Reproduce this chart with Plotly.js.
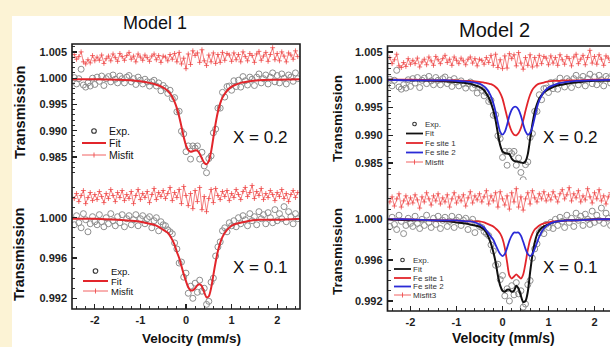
<!DOCTYPE html>
<html><head><meta charset="utf-8">
<script src="https://cdn.plot.ly/plotly-3.0.1.min.js"></script>
<style>html,body{margin:0;padding:0;overflow:hidden;background:#fcf3d5;}#chart{width:625px;height:347px;}</style>
</head><body><div id="chart"></div>
<script>
// ---------------- DATA ----------------
const velocity = [
-2.45,-2.4,-2.35,-2.3,-2.25,-2.2,-2.15,-2.1,-2.05,-2,
-1.95,-1.9,-1.85,-1.8,-1.75,-1.7,-1.65,-1.6,-1.55,-1.5,
-1.45,-1.4,-1.35,-1.3,-1.25,-1.2,-1.15,-1.1,-1.05,-1,
-0.95,-0.9,-0.85,-0.8,-0.75,-0.7,-0.65,-0.6,-0.55,-0.5,
-0.45,-0.4,-0.35,-0.3,-0.25,-0.2,-0.15,-0.1,-0.05,0,
0.05,0.1,0.15,0.2,0.25,0.3,0.35,0.4,0.45,0.5,
0.55,0.6,0.65,0.7,0.75,0.8,0.85,0.9,0.95,1,
1.05,1.1,1.15,1.2,1.25,1.3,1.35,1.4,1.45,1.5,
1.55,1.6,1.65,1.7,1.75,1.8,1.85,1.9,1.95,2,
2.05,2.1,2.15,2.2,2.25,2.3,2.35,2.4,2.45];

const expX02 = [
1.0001,0.9989,0.9999,1.0017,0.9987,0.9983,0.9991,0.9985,1.0000,0.9988,
1.0002,0.9994,1.0004,0.9986,0.9999,1.0003,0.9993,1.0006,0.9998,0.9991,
1.0004,0.9999,0.9991,1.0002,1.0005,0.9993,0.9999,0.9988,1.0002,0.9996,
0.9989,0.9998,0.9993,0.9985,0.9993,0.9996,0.9985,0.9991,0.9976,0.9986,
0.9981,0.9971,0.9977,0.9961,0.9963,0.9936,0.9937,0.9899,0.9894,0.9860,
0.9871,0.9846,0.9871,0.9867,0.9871,0.9846,0.9859,0.9833,0.9820,0.9847,
0.9852,0.9896,0.9903,0.9943,0.9943,0.9973,0.9964,0.9984,0.9985,0.9977,
0.9995,0.9984,0.9996,0.9983,1.0003,0.9995,0.9987,1.0002,0.9998,0.9986,
1.0002,1.0008,0.9991,0.9999,1.0006,0.9989,1.0002,1.0010,0.9993,1.0005,
0.9991,1.0008,1.0000,0.9989,1.0006,1.0002,0.9994,1.0010,0.9999];

const expX01 = [
0.9993,1.0002,0.9995,0.9990,1.0004,0.9998,0.9986,0.9994,1.0001,0.9996,
0.9993,1.0003,0.9996,0.9991,1.0000,0.9994,1.0004,0.9997,0.9992,1.0001,
0.9995,1.0003,0.9991,0.9999,1.0002,0.9993,0.9998,1.0003,0.9992,0.9999,
1.0002,0.9994,0.9999,1.0001,0.9990,0.9997,1.0000,0.9987,0.9996,0.9993,
0.9992,0.9988,0.9986,0.9984,0.9975,0.9969,0.9955,0.9956,0.9941,0.9945,
0.9925,0.9932,0.9920,0.9935,0.9926,0.9938,0.9927,0.9930,0.9914,0.9917,
0.9936,0.9940,0.9962,0.9971,0.9976,0.9987,0.9990,0.9986,0.9995,0.9992,
0.9997,0.9991,1.0000,0.9994,1.0002,0.9998,0.9992,1.0004,0.9997,1.0001,
0.9993,1.0006,0.9999,1.0003,0.9994,1.0005,1.0000,0.9995,1.0008,0.9997,
1.0004,0.9999,1.0011,0.9996,1.0006,1.0001,0.9994,1.0004,0.9999];

const misfitM1X02 = [
1.0045,1.0036,1.0041,1.0050,1.0031,1.0027,1.0035,1.0029,1.0043,1.0033,
1.0040,1.0034,1.0044,1.0028,1.0037,1.0042,1.0033,1.0046,1.0039,1.0032,
1.0047,1.0041,1.0034,1.0043,1.0049,1.0036,1.0042,1.0031,1.0046,1.0040,
1.0034,1.0044,1.0039,1.0032,1.0042,1.0046,1.0035,1.0043,1.0030,1.0042,
1.0040,1.0033,1.0045,1.0036,1.0047,1.0031,1.0049,1.0027,1.0038,1.0018,
1.0046,1.0026,1.0052,1.0043,1.0048,1.0030,1.0054,1.0033,1.0024,1.0044,
1.0031,1.0048,1.0028,1.0045,1.0030,1.0049,1.0034,1.0047,1.0044,1.0032,
1.0048,1.0035,1.0045,1.0031,1.0050,1.0041,1.0033,1.0047,1.0043,1.0030,
1.0046,1.0051,1.0034,1.0042,1.0049,1.0032,1.0045,1.0058,1.0035,1.0047,
1.0033,1.0050,1.0042,1.0031,1.0048,1.0044,1.0036,1.0052,1.0041];

const misfitM1X01 = [
1.0019,1.0024,1.0016,1.0022,1.0027,1.0014,1.0020,1.0025,1.0017,1.0023,
1.0018,1.0026,1.0021,1.0015,1.0024,1.0019,1.0028,1.0022,1.0016,1.0025,
1.0020,1.0027,1.0017,1.0023,1.0019,1.0026,1.0014,1.0022,1.0028,1.0018,
1.0024,1.0020,1.0026,1.0015,1.0023,1.0029,1.0018,1.0025,1.0021,1.0027,
1.0019,1.0024,1.0030,1.0017,1.0025,1.0020,1.0028,1.0014,1.0031,1.0022,
1.0012,1.0024,1.0009,1.0027,1.0016,1.0030,1.0008,1.0021,1.0006,1.0019,
1.0028,1.0015,1.0029,1.0022,1.0018,1.0026,1.0021,1.0027,1.0017,1.0024,
1.0020,1.0028,1.0023,1.0018,1.0026,1.0030,1.0021,1.0025,1.0032,1.0019,
1.0026,1.0022,1.0029,1.0018,1.0024,1.0020,1.0027,1.0023,1.0017,1.0025,
1.0021,1.0028,1.0019,1.0024,1.0016,1.0023,1.0027,1.0020,1.0025];

const misfitM2X02 = [
1.0040,1.0029,1.0036,1.0046,1.0025,1.0022,1.0031,1.0024,1.0038,1.0028,
1.0035,1.0029,1.0039,1.0023,1.0032,1.0037,1.0027,1.0041,1.0034,1.0026,
1.0042,1.0036,1.0029,1.0038,1.0044,1.0031,1.0037,1.0026,1.0041,1.0035,
1.0029,1.0039,1.0034,1.0027,1.0037,1.0041,1.0030,1.0038,1.0025,1.0037,
1.0035,1.0028,1.0040,1.0031,1.0044,1.0026,1.0046,1.0022,1.0036,1.0020,
1.0043,1.0021,1.0047,1.0038,1.0045,1.0025,1.0049,1.0030,1.0019,1.0040,
1.0026,1.0045,1.0023,1.0040,1.0025,1.0044,1.0029,1.0042,1.0039,1.0027,
1.0043,1.0030,1.0040,1.0026,1.0045,1.0036,1.0028,1.0042,1.0038,1.0025,
1.0041,1.0046,1.0029,1.0037,1.0044,1.0027,1.0040,1.0053,1.0030,1.0042,
1.0028,1.0045,1.0037,1.0026,1.0043,1.0039,1.0031,1.0047,1.0036];

const misfitM2X01 = [
1.0017,1.0022,1.0013,1.0020,1.0025,1.0012,1.0018,1.0023,1.0015,1.0021,
1.0016,1.0024,1.0019,1.0011,1.0022,1.0017,1.0026,1.0020,1.0014,1.0023,
1.0018,1.0025,1.0015,1.0021,1.0017,1.0024,1.0012,1.0020,1.0026,1.0016,
1.0022,1.0018,1.0024,1.0013,1.0021,1.0027,1.0016,1.0023,1.0019,1.0025,
1.0017,1.0022,1.0028,1.0015,1.0023,1.0018,1.0026,1.0012,1.0027,1.0020,
1.0014,1.0023,1.0010,1.0026,1.0017,1.0030,1.0012,1.0022,1.0009,1.0020,
1.0026,1.0015,1.0028,1.0021,1.0017,1.0025,1.0020,1.0027,1.0018,1.0024,
1.0019,1.0027,1.0022,1.0017,1.0025,1.0029,1.0020,1.0024,1.0031,1.0018,
1.0025,1.0021,1.0028,1.0017,1.0023,1.0019,1.0030,1.0022,1.0016,1.0026,
1.0020,1.0029,1.0018,1.0023,1.0015,1.0022,1.0026,1.0019,1.0024];

const fitVelocity = [-2.5,-2,-1.5,-1.2,-1,-0.8,-0.7,-0.6,-0.5,-0.4,
-0.35,-0.3,-0.25,-0.2,-0.15,-0.1,-0.05,0,0.05,0.1,
0.15,0.2,0.25,0.3,0.35,0.4,0.45,0.5,0.55,0.6,
0.65,0.7,0.75,0.8,0.9,1,1.1,1.2,1.4,1.6,2,2.5];

const fitM1X02 = [0.9998,0.9998,0.9997,0.9996,0.9994,0.9991,0.9989,0.9986,0.9982,0.9976,
0.9971,0.9964,0.9955,0.9943,0.9927,0.9908,0.9888,0.9872,0.9863,0.9860,
0.9861,0.9863,0.9862,0.9856,0.9847,0.9839,0.9836,0.9842,0.9860,0.9887,
0.9914,0.9936,0.9952,0.9963,0.9976,0.9984,0.9988,0.9991,0.9994,0.9996,0.9997,0.9998];

const fitM1X01 = [0.9999,0.9999,0.9998,0.9997,0.9996,0.9994,0.9993,0.9991,0.9988,0.9985,
0.9982,0.9978,0.9973,0.9966,0.9960,0.9952,0.9944,0.9937,0.9931,0.9928,
0.9928,0.9930,0.9933,0.9934,0.9932,0.9926,0.9921,0.9922,0.9930,0.9943,
0.9956,0.9967,0.9975,0.9981,0.9988,0.9992,0.9994,0.9995,0.9997,0.9998,0.9998,0.9999];

const fitM2X02 = [1.0000,0.9999,0.9998,0.9997,0.9996,0.9994,0.9993,0.9990,0.9987,0.9981,
0.9975,0.9968,0.9958,0.9945,0.9927,0.9903,0.9882,0.9871,0.9868,0.9867,
0.9866,0.9858,0.9854,0.9853,0.9852,0.9851,0.9850,0.9853,0.9866,0.9893,
0.9920,0.9942,0.9956,0.9966,0.9977,0.9983,0.9987,0.9990,0.9993,0.9995,0.9998,0.9999];

const site1M2X02 = [1.0000,1.0000,0.9999,0.9999,0.9999,0.9998,0.9998,0.9997,0.9996,0.9995,
0.9994,0.9993,0.9992,0.9990,0.9987,0.9983,0.9976,0.9966,0.9950,0.9933,
0.9918,0.9907,0.9901,0.9900,0.9904,0.9913,0.9927,0.9944,0.9960,0.9973,
0.9982,0.9987,0.9991,0.9993,0.9995,0.9997,0.9998,0.9998,0.9999,0.9999,1.0000,1.0000];

const site2M2X02 = [1.0000,0.9999,0.9999,0.9999,0.9998,0.9997,0.9996,0.9995,0.9993,0.9988,
0.9984,0.9978,0.9970,0.9958,0.9942,0.9922,0.9906,0.9901,0.9906,0.9919,
0.9935,0.9946,0.9951,0.9951,0.9946,0.9935,0.9920,0.9907,0.9901,0.9904,
0.9915,0.9932,0.9950,0.9963,0.9978,0.9986,0.9990,0.9993,0.9996,0.9998,0.9999,1.0000];

const fitM2X01 = [1.0000,0.9999,0.9999,0.9998,0.9997,0.9996,0.9995,0.9994,0.9993,0.9990,
0.9987,0.9982,0.9976,0.9968,0.9958,0.9945,0.9935,0.9930,0.9929,0.9931,
0.9931,0.9929,0.9930,0.9935,0.9932,0.9925,0.9919,0.9920,0.9929,0.9948,
0.9965,0.9977,0.9985,0.9989,0.9993,0.9995,0.9997,0.9998,0.9999,0.9999,1.0000,1.0000];

const site1M2X01 = [1.0000,1.0000,0.9999,0.9999,0.9999,0.9998,0.9998,0.9998,0.9998,0.9997,
0.9996,0.9995,0.9994,0.9993,0.9991,0.9989,0.9986,0.9981,0.9972,0.9958,
0.9945,0.9942,0.9944,0.9946,0.9944,0.9942,0.9946,0.9957,0.9970,0.9980,
0.9986,0.9990,0.9992,0.9994,0.9996,0.9997,0.9998,0.9998,0.9999,0.9999,1.0000,1.0000];

const site2M2X01 = [1.0000,1.0000,0.9999,0.9999,0.9999,0.9998,0.9998,0.9997,0.9995,0.9992,
0.9989,0.9986,0.9983,0.9980,0.9975,0.9970,0.9966,0.9964,0.9966,0.9972,
0.9979,0.9984,0.9987,0.9987,0.9987,0.9984,0.9978,0.9971,0.9966,0.9964,
0.9966,0.9971,0.9977,0.9983,0.9991,0.9995,0.9997,0.9998,0.9999,0.9999,1.0000,1.0000];

const xTickVals = [-2,-1,0,1,2];
const xTickText = ['-2','-1','0','1','2'];
const yTickValsX02 = [1.005,1.000,0.995,0.990,0.985];
const yTickTextX02 = ['1.005','1.000','0.995','0.990','0.985'];
const yTickValsX01 = [1.000,0.996,0.992];
const yTickTextX01 = ['1.000','0.996','0.992'];
const panelTitles = ['Model 1','Model 2'];
const compositionLabels = ['X = 0.2','X = 0.1'];
const axisTitleY = 'Transmission';
const axisTitleX = 'Velocity (mm/s)';

// ---------------- STYLE / LAYOUT ----------------
const W = 625, H = 347;
const px = v => v / W;
const py = v => 1 - v / H;
const FONT = 'Liberation Sans, Arial, Helvetica, sans-serif';
const MISFIT = 'rgba(238,70,70,0.85)';

function expTrace(y, xa, ya) {
  return {type:'scatter', mode:'markers', x: velocity, y: y, xaxis: xa, yaxis: ya, name:'Exp.',
    marker:{symbol:'circle-open', size:6, color:'#8e8e8e', line:{width:1}}, showlegend:false};
}
function misfitTrace(y, xa, ya, name) {
  return {type:'scatter', mode:'lines+markers', x: velocity, y: y, xaxis: xa, yaxis: ya, name: name,
    line:{color:MISFIT, width:0.8},
    marker:{symbol:'cross-thin-open', size:3.5, color:MISFIT, line:{width:0.9, color:MISFIT}},
    showlegend:false};
}
function lineTrace(y, xa, ya, name, color, width) {
  return {type:'scatter', mode:'lines', x: fitVelocity, y: y, xaxis: xa, yaxis: ya, name: name,
    line:{color: color, width: width, shape:'spline', smoothing:0.7}, showlegend:false};
}

const RED = '#e2252b', BLUE = '#2a2ad6', BLACK = '#111111';

const tl = [expTrace(expX02,'x','y'), lineTrace(fitM1X02,'x','y','Fit',RED,2), misfitTrace(misfitM1X02,'x','y','Misfit')];
const bl = [expTrace(expX01,'x','y2'), lineTrace(fitM1X01,'x','y2','Fit',RED,2), misfitTrace(misfitM1X01,'x','y2','Misfit')];
const tr = [expTrace(expX02,'x2','y3'), lineTrace(fitM2X02,'x2','y3','Fit',BLACK,2),
            lineTrace(site1M2X02,'x2','y3','Fe site 1',RED,1.8), lineTrace(site2M2X02,'x2','y3','Fe site 2',BLUE,1.8),
            misfitTrace(misfitM2X02,'x2','y3','Misfit')];
const br = [expTrace(expX01,'x2','y4'), lineTrace(fitM2X01,'x2','y4','Fit',BLACK,2),
            lineTrace(site1M2X01,'x2','y4','Fe site 1',RED,1.8), lineTrace(site2M2X01,'x2','y4','Fe site 2',BLUE,1.8),
            misfitTrace(misfitM2X01,'x2','y4','Misfit3')];
const data = [...tl, ...bl, ...tr, ...br];

const tickFont = {family: FONT, size: 11, color:'#1e1e1e', weight:'bold'};
function xAxis(domain, anchor) {
  return {domain: domain, anchor: anchor, range:[-2.5,2.5], tickmode:'array', tickvals:xTickVals, ticktext:xTickText,
    ticks:'inside', ticklen:5, tickwidth:1.3, tickcolor:'#222', showline:false, showgrid:false, zeroline:false,
    tickfont: tickFont, ticklabelstandoff: 3,
    minor:{tickmode:'linear', tick0:0, dtick:0.2, ticks:'inside', ticklen:3, tickwidth:1, tickcolor:'#333', showgrid:false}};
}
function yAxis(domain, range, vals, text, minorD, anchor) {
  return {domain: domain, anchor: anchor, range: range, tickmode:'array', tickvals: vals, ticktext: text,
    ticks:'inside', ticklen:5, tickwidth:1.3, tickcolor:'#222', showline:false, showgrid:false, zeroline:false,
    tickfont: tickFont, ticklabelstandoff: 4,
    minor:{tickmode:'linear', tick0:1, dtick:minorD, ticks:'inside', ticklen:3, tickwidth:1, tickcolor:'#333', showgrid:false}};
}

const layout = {
  width: W, height: H, margin:{l:0,r:0,t:0,b:0}, showlegend:false,
  paper_bgcolor:'#fcf3d5', plot_bgcolor:'rgba(0,0,0,0)',
  font:{family: FONT, color:'#111'},
  xaxis: xAxis([72/W, 300/W], 'y2'),
  xaxis2: xAxis([387.5/W, 617.5/W], 'y4'),
  yaxis: yAxis([py(178), py(44)], [0.981, 1.0065], yTickValsX02, yTickTextX02, 0.001, 'x'),
  yaxis2: yAxis([py(309), py(178)], [0.99094, 1.00394], yTickValsX01, yTickTextX01, 0.001, 'x'),
  yaxis3: yAxis([py(180), py(46)], [0.98194, 1.00608], yTickValsX02, yTickTextX02, 0.001, 'x2'),
  yaxis4: yAxis([py(311), py(180)], [0.99102, 1.00385], yTickValsX01, yTickTextX01, 0.001, 'x2'),
  shapes: [], annotations: []
};

// white card behind the figure
layout.shapes.push({type:'rect', xref:'paper', yref:'paper', x0:px(12), x1:1, y0:0, y1:py(16),
  fillcolor:'#ffffff', line:{width:0}, layer:'below'});
// panel frames
layout.shapes.push({type:'rect', xref:'paper', yref:'paper', x0:px(72), x1:px(300), y0:py(309), y1:py(44),
  line:{color:'#1a1a1a', width:1.6}, fillcolor:'rgba(0,0,0,0)', layer:'above'});
layout.shapes.push({type:'rect', xref:'paper', yref:'paper', x0:px(387.5), x1:px(617.5), y0:py(311), y1:py(46),
  line:{color:'#1a1a1a', width:1.7}, fillcolor:'rgba(0,0,0,0)', layer:'above'});

function ann(text, x, y, size, opts) {
  layout.annotations.push(Object.assign({xref:'paper', yref:'paper', x:px(x), y:py(y), text:text, showarrow:false,
    xanchor:'center', yanchor:'middle', font:{family:FONT, size:size, color:'#111'}}, opts || {}));
}
// titles
ann(panelTitles[0], 155, 23, 18);
ann(panelTitles[1], 494, 30, 20);
// axis titles
const tf = (s) => ({family:FONT, size:s, color:'#111', weight:'bold'});
ann(axisTitleY, 20, 113, 14.5, {textangle:-90, font: tf(14.5)});
ann(axisTitleY, 19, 255, 14.5, {textangle:-90, font: tf(14.5)});
ann(axisTitleY, 337, 119, 13.5, {textangle:-90, font: tf(13.5)});
ann(axisTitleY, 337, 252, 13.5, {textangle:-90, font: tf(13.5)});
ann(axisTitleX, 191, 347, 13.5, {font: tf(13.5), yanchor:'bottom', borderpad:0});
ann(axisTitleX, 503, 347, 14, {font: tf(14), yanchor:'bottom', borderpad:0});
// composition labels
ann(compositionLabels[0], 260, 137, 17);
ann(compositionLabels[1], 260, 267, 17);
ann(compositionLabels[0], 570, 137, 17);
ann(compositionLabels[1], 570, 267, 17);

// manual compact legends built from the traces
function legend(traces, spec) {
  traces.forEach((t, k) => {
    const y = spec.rows[k];
    const cx = (spec.x0 + spec.x1) / 2;
    if (t.mode === 'markers') {
      const r = spec.r;
      layout.shapes.push({type:'circle', xref:'paper', yref:'paper', x0:px(cx-r), x1:px(cx+r), y0:py(y+r), y1:py(y-r),
        line:{color:'#333', width:1.1}, fillcolor:'rgba(0,0,0,0)'});
    } else {
      layout.shapes.push({type:'line', xref:'paper', yref:'paper', x0:px(spec.x0), x1:px(spec.x1), y0:py(y), y1:py(y),
        line:{color:t.line.color, width: t.mode === 'lines' ? spec.lw : 1}});
      if (t.mode === 'lines+markers') {
        layout.shapes.push({type:'line', xref:'paper', yref:'paper', x0:px(cx), x1:px(cx), y0:py(y+2.5), y1:py(y-2.5),
          line:{color:t.line.color, width:1}});
      }
    }
    layout.annotations.push({xref:'paper', yref:'paper', x:px(spec.tx), y:py(y), xanchor:'left', yanchor:'middle',
      text:t.name, showarrow:false, borderpad:0, font:{family:FONT, size:spec.size, color:spec.color}});
  });
}
legend(tl, {x0:82, x1:106, tx:108, rows:[131,143,155], size:10.5, color:'#111', r:2.3, lw:2});
legend(bl, {x0:83, x1:108, tx:110, rows:[271,281,291], size:9.5, color:'#111', r:2.3, lw:2});
legend(tr, {x0:406, x1:423, tx:424, rows:[124,133.5,143,152.5,162], size:8, color:'#333', r:1.8, lw:1.8});
legend(br, {x0:394, x1:411, tx:412, rows:[260,269,278,286.5,295], size:8, color:'#333', r:1.8, lw:1.8});

Plotly.newPlot('chart', data, layout, {staticPlot:true, displayModeBar:false});
</script>
</body></html>
